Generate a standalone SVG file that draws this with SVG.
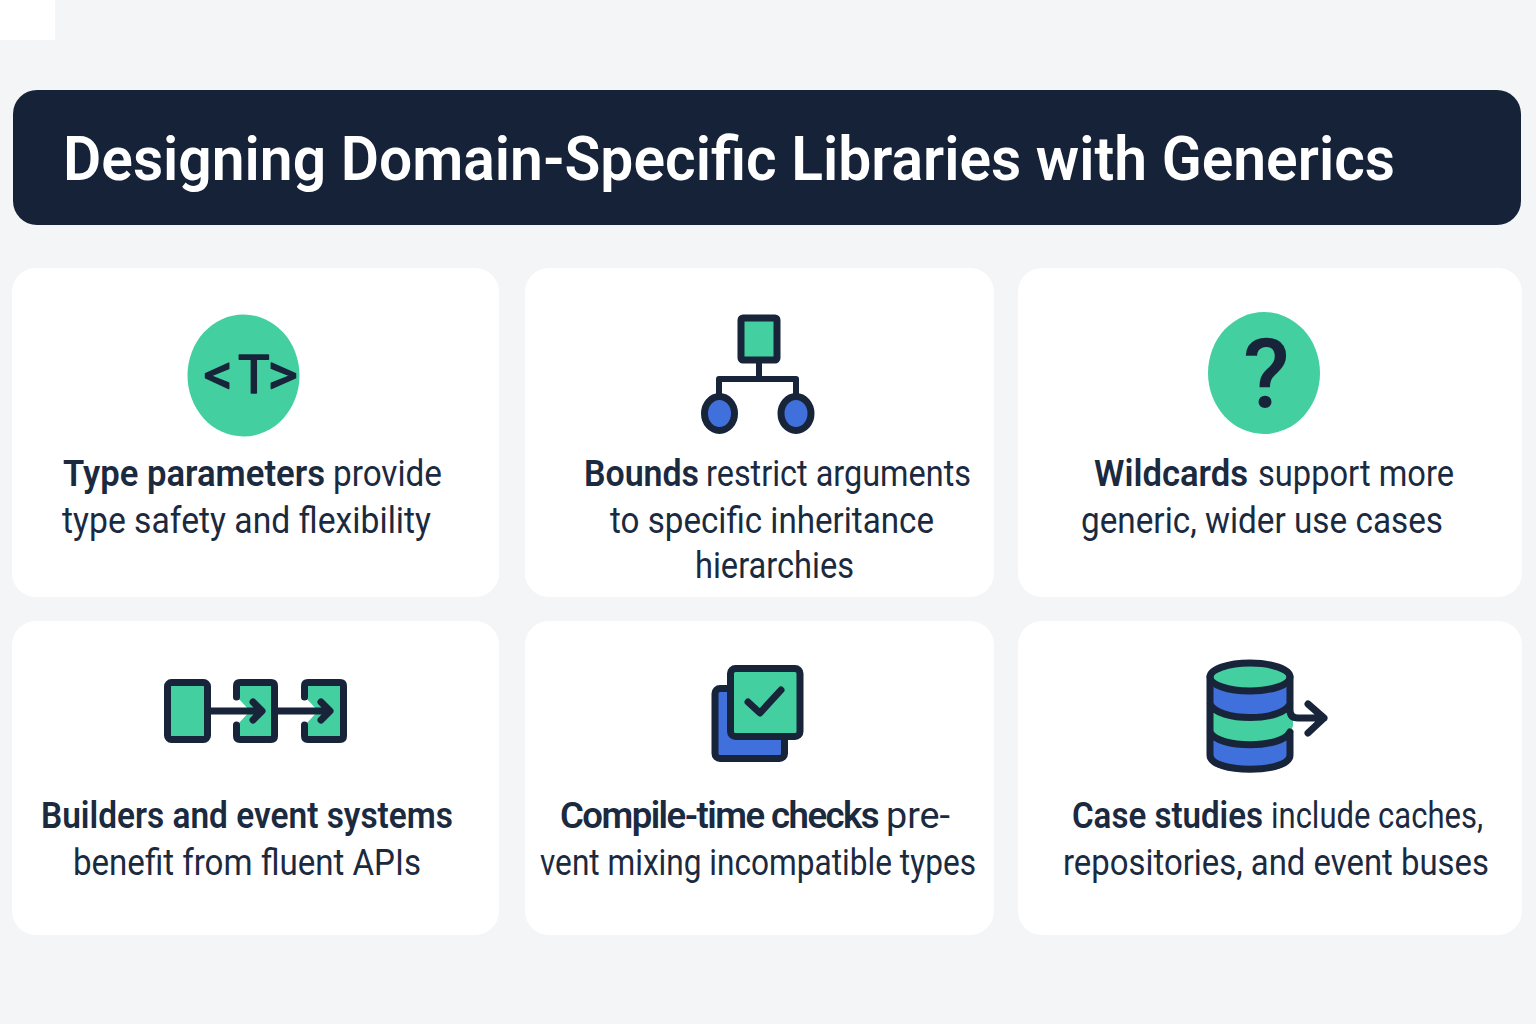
<svg xmlns="http://www.w3.org/2000/svg" width="1536" height="1024" viewBox="0 0 1536 1024">
<style>
.card{fill:#fff}
.t{font-family:Roboto,"Liberation Sans",sans-serif;font-size:36px;fill:#1b2a3f;font-weight:400}
.h{font-weight:600}
.g{fill:#43cfa0}
.b{fill:#4070dc}
.s{fill:none;stroke:#18243a;stroke-width:7;stroke-linecap:round;stroke-linejoin:round}
</style>
<rect width="1536" height="1024" fill="#f4f5f7"/>
<rect width="55" height="40" fill="#fff"/>
<g id="header">
<rect x="13" y="90" width="1508" height="135" rx="24" fill="#162238"/>
<text x="63" y="180" font-family="Roboto,'Liberation Sans',sans-serif" font-size="62" font-weight="600" fill="#fff" textLength="1332" lengthAdjust="spacingAndGlyphs">Designing Domain-Specific Libraries with Generics</text>
</g>
<g id="card-type-parameters">
<rect class="card" x="12" y="268" width="487" height="329" rx="24"/>
<ellipse class="g" cx="243.500" cy="375.500" rx="56" ry="61"/>
<text font-family="Roboto,'Liberation Sans',sans-serif" font-size="53" font-weight="400" fill="#18243a" stroke="#18243a" stroke-width="1.500" stroke-linejoin="round"><tspan x="203.500" y="394" font-size="58">&lt;</tspan><tspan x="238" y="393">T</tspan><tspan x="267.500" y="394" font-size="58">&gt;</tspan></text>
<text class="t h" x="63" y="486" textLength="262" lengthAdjust="spacingAndGlyphs">Type parameters</text>
<text class="t" x="333" y="486" textLength="109" lengthAdjust="spacingAndGlyphs">provide</text>
<text class="t" x="62" y="533" textLength="369" lengthAdjust="spacingAndGlyphs">type safety and flexibility</text>
</g>
<g id="card-bounds">
<rect class="card" x="525" y="268" width="469" height="329" rx="24"/>
<rect class="s" style="fill:#43cfa0" x="741" y="318" width="36" height="42" rx="2"/>
<path class="s" style="stroke-width:6" d="M759 362V379M719 395V379H796V395"/>
<ellipse class="s" style="fill:#4070dc" cx="719.500" cy="413.500" rx="15" ry="17"/>
<ellipse class="s" style="fill:#4070dc" cx="796" cy="413.500" rx="15" ry="17"/>
<text class="t h" x="584" y="486" textLength="115" lengthAdjust="spacingAndGlyphs">Bounds</text>
<text class="t" x="706" y="486" textLength="265" lengthAdjust="spacingAndGlyphs">restrict arguments</text>
<text class="t" x="610" y="533" textLength="324" lengthAdjust="spacingAndGlyphs">to specific inheritance</text>
<text class="t" x="695" y="578" textLength="159" lengthAdjust="spacingAndGlyphs">hierarchies</text>
</g>
<g id="card-wildcards">
<rect class="card" x="1018" y="268" width="504" height="329" rx="24"/>
<ellipse class="g" cx="1264" cy="373" rx="56" ry="61"/>
<text x="1243" y="407" font-family="Roboto,'Liberation Sans',sans-serif" font-size="96" font-weight="500" fill="#18243a">?</text>
<text class="t h" x="1094" y="486" textLength="154" lengthAdjust="spacingAndGlyphs">Wildcards</text>
<text class="t" x="1258" y="486" textLength="196" lengthAdjust="spacingAndGlyphs">support more</text>
<text class="t" x="1081" y="533" textLength="362" lengthAdjust="spacingAndGlyphs">generic, wider use cases</text>
</g>
<g id="card-builders">
<rect class="card" x="12" y="621" width="487" height="314" rx="24"/>
<rect class="s" style="fill:#43cfa0" x="167.500" y="682.500" width="40" height="57" rx="4"/>
<path class="g" d="M238 685H273V738H238V724L250 711L238 698Z"/>
<path class="g" d="M306 685H342V738H306V724L318 711L306 698Z"/>
<path class="s" d="M236.500 697V686Q236.500 682.500 240 682.500H271Q274.500 682.500 274.500 686V736Q274.500 739.500 271 739.500H240Q236.500 739.500 236.500 736V725"/>
<path class="s" d="M304.500 697V686Q304.500 682.500 308 682.500H340Q343.500 682.500 343.500 686V736Q343.500 739.500 340 739.500H308Q304.500 739.500 304.500 736V725"/>
<path class="s" d="M211 711H260M253 702L262 711L253 720M278 711H328M321 702L330 711L321 720"/>
<text class="t h" x="41" y="828" textLength="412" lengthAdjust="spacingAndGlyphs">Builders and event systems</text>
<text class="t" x="73" y="875" textLength="348" lengthAdjust="spacingAndGlyphs">benefit from fluent APIs</text>
</g>
<g id="card-compile-time">
<rect class="card" x="525" y="621" width="469" height="314" rx="24"/>
<rect class="s" style="fill:#4070dc" x="715" y="688.500" width="69.500" height="70" rx="5"/>
<rect class="s" style="fill:#43cfa0" x="730.500" y="668.500" width="69.500" height="68" rx="5"/>
<path class="s" d="M748 702L760 713L781 690"/>
<text class="t h" x="560" y="828" textLength="318" lengthAdjust="spacingAndGlyphs" style="letter-spacing:-1.500px">Compile-time checks</text>
<text class="t" x="886" y="828" textLength="64" lengthAdjust="spacingAndGlyphs">pre-</text>
<text class="t" x="540" y="875" textLength="436" lengthAdjust="spacingAndGlyphs">vent mixing incompatible types</text>
</g>
<g id="card-case-studies">
<rect class="card" x="1018" y="621" width="504" height="314" rx="24"/>
<path class="b" d="M1210 677H1290V718H1210Z"/>
<path class="g" d="M1210 704Q1250 732 1293 704V726L1290 733V748H1210Z"/>
<path class="b" d="M1210 733V760C1210 776 1290 776 1290 760V733Q1250 758 1210 733Z"/>
<ellipse class="s" style="fill:#43cfa0" cx="1250" cy="677" rx="40" ry="14"/>
<path class="s" d="M1210 677V755C1210 774 1290 774 1290 755V733M1290 677V710Q1290 718 1298 718H1324M1308 704L1324 718L1308 733M1210 704C1218 722 1282 722 1290 704M1210 732C1218 749 1282 749 1290 732"/>
<text class="t h" x="1072" y="828" textLength="191" lengthAdjust="spacingAndGlyphs">Case studies</text>
<text class="t" x="1271" y="828" textLength="212" lengthAdjust="spacingAndGlyphs">include caches,</text>
<text class="t" x="1063" y="875" textLength="426" lengthAdjust="spacingAndGlyphs">repositories, and event buses</text>
</g>
</svg>
